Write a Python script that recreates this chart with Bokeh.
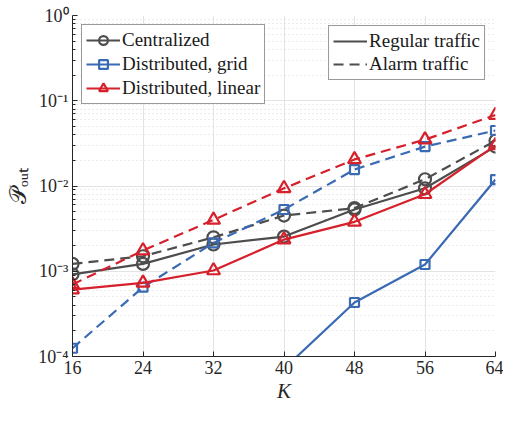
import numpy as np
from bokeh.plotting import figure
from bokeh.models import (FixedTicker, CustomJSTickFormatter, Legend, LegendItem, Range1d)
from bokeh.embed import file_html
from bokeh.resources import INLINE

# ---- data ----
K = [16, 24, 32, 40, 48, 56, 64]
x_tick_labels = ["16", "24", "32", "40", "48", "56", "64"]
y_ticks = [1e-4, 1e-3, 1e-2, 1e-1, 1.0]

cen_regular = [9.2e-4, 1.22e-3, 2.06e-3, 2.55e-3, 5.3e-3, 9.4e-3, 0.029]
cen_alarm = [1.22e-3, 1.5e-3, 2.5e-3, 4.5e-3, 5.5e-3, 0.012, 0.034]
grid_regular = [np.nan, np.nan, np.nan, 7.2e-5, 4.3e-4, 1.2e-3, 0.0119]
grid_alarm = [1.25e-4, 6.5e-4, 2.15e-3, 5.3e-3, 0.0156, 0.029, 0.0448]
lin_regular = [6.1e-4, 7.3e-4, 1.02e-3, 2.35e-3, 3.8e-3, 8.0e-3, 0.030]
lin_alarm = [7.0e-4, 1.75e-3, 4.0e-3, 9.4e-3, 0.0205, 0.035, 0.068]

GRAY = "#4d4d4d"
BLUE = "#3a6ab4"
RED = "#d6202b"
FONT = "'Liberation Serif'"

p = figure(width=503, height=405, y_axis_type="log",
           x_range=Range1d(16, 64), y_range=Range1d(1e-4, 1.0),
           output_backend="svg", toolbar_location=None,
           min_border_left=72, min_border_right=8, min_border_top=15, min_border_bottom=46)
p.outline_line_color = None
p.background_fill_color = "white"

# axes
p.xaxis.ticker = FixedTicker(ticks=K)
p.xaxis.major_label_overrides = {k: s for k, s in zip(K, x_tick_labels)}
minor = [m * t for t in y_ticks[:-1] for m in range(2, 10)]
p.yaxis.ticker = FixedTicker(ticks=y_ticks, minor_ticks=minor)
p.yaxis.formatter = CustomJSTickFormatter(code="""
const e = Math.round(Math.log10(tick));
const sup = {'-':'\u207b','0':'\u2070','1':'\u00b9','2':'\u00b2','3':'\u00b3','4':'\u2074','5':'\u2075'};
return '10' + String(e).split('').map(c => sup[c]).join('');
""")
for ax in (p.xaxis, p.yaxis):
    ax.axis_line_color = "#262626"
    ax.major_tick_line_color = "#262626"
    ax.minor_tick_line_color = "#262626"
    ax.major_tick_in = 5
    ax.major_tick_out = 0
    ax.minor_tick_in = 3
    ax.minor_tick_out = 0
    ax.major_label_text_font = FONT
    ax.major_label_text_font_size = "18px"
    ax.major_label_text_color = "#262626"
    ax.axis_label_text_font = FONT
    ax.axis_label_text_color = "#262626"
p.xaxis.minor_tick_line_color = None
p.xaxis.axis_label = "K"
p.xaxis.axis_label_text_font_size = "21px"
p.xaxis.axis_label_text_font_style = "italic"
p.xaxis.axis_label_standoff = 2
p.xaxis.major_label_standoff = 4
p.yaxis.axis_label = "\U0001D4AB\u2092\u1d64\u209c"
p.yaxis.axis_label_text_font_size = "23px"
p.yaxis.axis_label_text_font_style = "normal"
p.yaxis.axis_label_standoff = 4
p.yaxis.major_label_standoff = 4

# grids
p.xgrid.grid_line_color = "#e3e3e3"
p.ygrid.grid_line_color = "#e3e3e3"
p.ygrid.minor_grid_line_color = "#d8d8d8"
p.ygrid.minor_grid_line_dash = "1 3"

W = 2.2
DASH = "10 6"

def series(y, color, dash, marker, size):
    ln = p.line(K, y, line_color=color, line_width=W, line_dash=dash)
    sc = p.scatter(K, y, marker=marker, size=size, line_color=color, line_width=W,
                   fill_color=None)
    return ln, sc

cr_l, cr_s = series(cen_regular, GRAY, "solid", "circle", 12)
ca_l, ca_s = series(cen_alarm, GRAY, DASH, "circle", 12)
gr_l, gr_s = series(grid_regular, BLUE, "solid", "square", 9)
ga_l, ga_s = series(grid_alarm, BLUE, DASH, "square", 9)
lr_l, lr_s = series(lin_regular, RED, "solid", "triangle", 13)
la_l, la_s = series(lin_alarm, RED, DASH, "triangle", 13)

def style_legend(lg):
    lg.label_text_font = FONT
    lg.label_text_font_size = "19px"
    lg.label_text_color = "#1a1a1a"
    lg.border_line_color = "#333333"
    lg.border_line_width = 1
    lg.background_fill_color = "white"
    lg.background_fill_alpha = 1
    lg.glyph_width = 34
    lg.label_standoff = 2

leg1 = Legend(items=[
    LegendItem(label="Centralized", renderers=[cr_l, cr_s]),
    LegendItem(label="Distributed, grid", renderers=[gr_l, gr_s]),
    LegendItem(label="Distributed, linear", renderers=[lr_l, lr_s]),
], location="top_left")
style_legend(leg1)
leg1.margin = 9
leg1.glyph_height = 22
leg1.label_height = 22
leg1.spacing = 2
leg1.padding = 4

leg2 = Legend(items=[
    LegendItem(label="Regular traffic", renderers=[cr_l]),
    LegendItem(label="Alarm traffic", renderers=[ca_l]),
], location="top_right")
style_legend(leg2)
leg2.margin = 10
leg2.glyph_height = 20
leg2.label_height = 20
leg2.spacing = 1
leg2.padding = 4

p.add_layout(leg1, "center")
p.add_layout(leg2, "center")

open("out.html", "w").write(file_html(p, INLINE))
